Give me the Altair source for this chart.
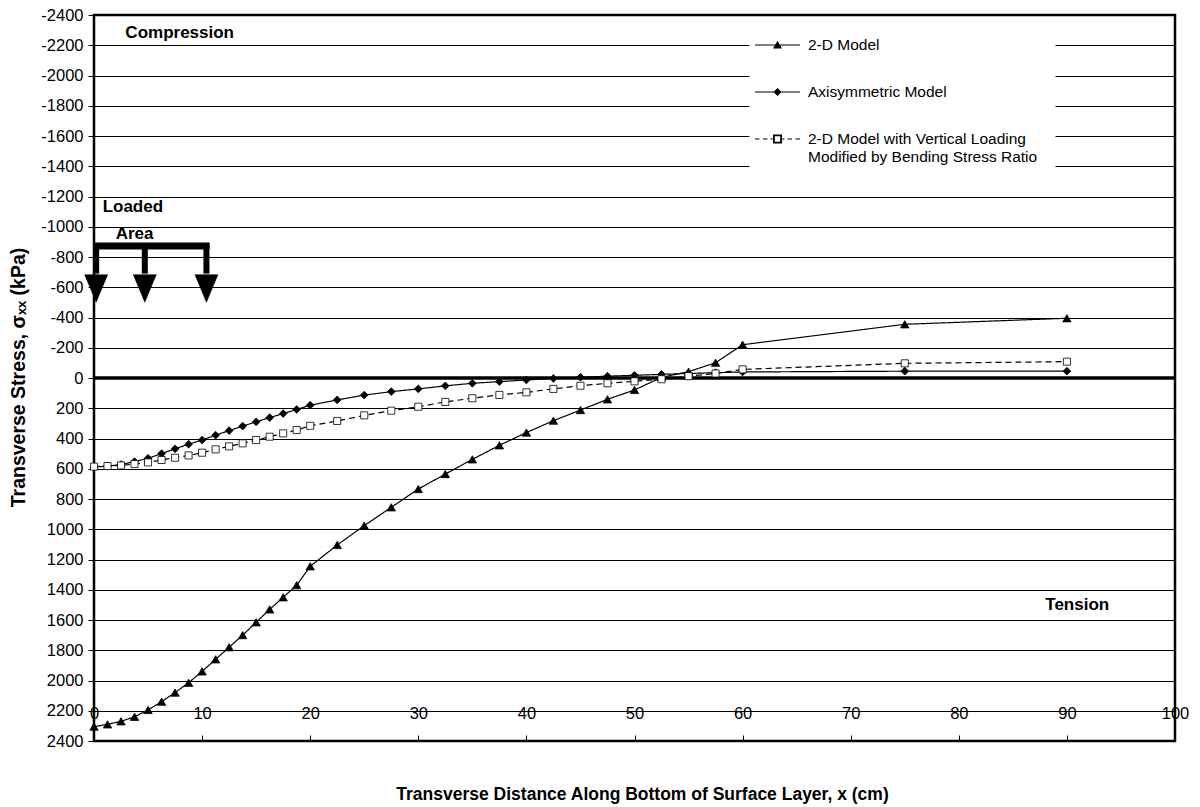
import altair as alt
import pandas as pd

FONT = "Liberation Sans, Arial, Helvetica, sans-serif"

# ---------------- data ----------------
x_vals = [0, 1.25, 2.5, 3.75, 5, 6.25, 7.5, 8.75, 10, 11.25, 12.5, 13.75, 15, 16.25, 17.5, 18.75, 20,
          22.5, 25, 27.5, 30, 32.5, 35, 37.5, 40, 42.5, 45, 47.5, 50, 52.5, 55, 57.5, 60, 75, 90]
model_2d = [2305, 2290, 2270, 2240, 2195, 2140, 2080, 2015, 1940, 1860, 1780, 1700, 1615, 1530, 1450, 1370, 1245,
            1104, 976, 855, 734, 635, 538, 445, 361, 282, 212, 141, 79, -4, -42, -101, -220, -355, -395]
axisym = [588, 583, 572, 553, 531, 500, 468, 438, 410, 378, 348, 318, 290, 262, 235, 208, 180,
          145, 113, 90, 72, 52, 35, 24, 13, 3, -5, -12, -18, -24, -30, -35, -40, -45, -45]
modified = [586, 582, 578, 569, 558, 542, 527, 512, 494, 472, 452, 432, 410, 388, 366, 344, 316,
            284, 247, 216, 190, 158, 134, 112, 95, 72, 51, 35, 22, 8, -12, -30, -57, -97, -108]

series_names = ["2-D Model", "Axisymmetric Model",
                "2-D Model with Vertical Loading Modified by Bending Stress Ratio"]

# annotations
ann_text = ["Compression", "Loaded", "Tension"]
ann_x = [2.9, 0.8, 88]
ann_y = [-2281, -1130, 1500]
area_text = ["Area"]
area_x = [3.75]
area_y = [-952]

# loaded-area symbol (bar + arrows)
bar_x = [0]
bar_x2 = [10.7]
bar_y = [-873]
arrow_x = [0.2, 4.7, 10.4]
arrow_top = [-873, -873, -873]
arrow_bottom = [-690, -690, -690]
arrow_head_y = [-592, -592, -592]

zero_line = [0]

x_ticks = list(range(0, 101, 10))
y_ticks = list(range(-2400, 2401, 200))

# ---------------- tables ----------------
rows = []
for name, vals in zip(series_names, [model_2d, axisym, modified]):
    for xv, yv in zip(x_vals, vals):
        rows.append({"x": xv, "y": yv, "series": name})
df = pd.DataFrame(rows)

df_leg = pd.DataFrame({"series": series_names})
df_ann = pd.DataFrame({"x": ann_x, "y": ann_y, "t": ann_text})
df_area = pd.DataFrame({"x": area_x, "y": area_y, "t": area_text})
df_bar = pd.DataFrame({"x": bar_x, "x2": bar_x2, "y": bar_y})
df_arrow = pd.DataFrame({"x": arrow_x, "y": arrow_top, "y2": arrow_bottom})
df_head = pd.DataFrame({"x": arrow_x, "y": arrow_head_y})
df_zero = pd.DataFrame({"y": zero_line})

W, H = 1081, 726
xscale = alt.Scale(domain=[0, 100], nice=False, zero=False)
yscale = alt.Scale(domain=[-2400, 2400], reverse=True, nice=False, zero=False)

x_axis = alt.Axis(orient="top", offset=-H, values=x_ticks, tickSize=6, tickColor="black", tickWidth=1,
                  labelPadding=14, grid=False, domain=False, title=None, labelFont=FONT,
                  labelFontSize=16.5, labelColor="black", labelFlush=False, labelOverlap=False)
y_axis = alt.Axis(orient="left", values=y_ticks, labelExpr="'' + datum.value", grid=True,
                  gridColor="black", gridWidth=1,
                  gridOpacity=1, tickSize=6, tickColor="black", tickWidth=1, labelPadding=5, domain=False,
                  labelFont=FONT, labelFontSize=16.5, labelColor="black", labelFlush=False,
                  labelOverlap=False,
                  title="Transverse Stress, σₓₓ  (kPa)", titleFont=FONT, titleFontSize=19.5,
                  titleFontWeight="bold", titleColor="black", titleX=-76, titleY=362,
                  titleAngle=270, titleAlign="center", titleBaseline="middle")

X = alt.X("x:Q", scale=xscale, axis=x_axis)
Y = alt.Y("y:Q", scale=yscale, axis=y_axis)

# legend symbols: line + marker drawn as one filled custom path each
legend_paths = [
    "M-2.25,-0.06H2.25V0.06H-2.25ZM0,-0.42L0.45,0.36L-0.45,0.36Z",
    "M-2.25,-0.06H2.25V0.06H-2.25ZM0,-0.4L0.4,0L0,0.4L-0.4,0Z",
    "M-2.25,-0.06H-1.8V0.06H-2.25ZM-1.45,-0.06H-1.0V0.06H-1.45ZM-0.7,-0.06H-0.45V0.06H-0.7Z"
    "M0.45,-0.06H0.7V0.06H0.45ZM1.0,-0.06H1.45V0.06H1.0ZM1.8,-0.06H2.25V0.06H1.8Z"
    "M-0.45,-0.45H0.45V0.45H-0.45ZM-0.27,-0.27V0.27H0.27V-0.27Z",
]
label_expr = ("indexof(datum.label, 'Vertical') >= 0 ? "
              "['2-D Model with Vertical Loading', 'Modified by Bending Stress Ratio'] : datum.label")

legend = alt.Legend(title=None, orient="none", legendX=655.5, legendY=2, fillColor="white",
                    padding=18, symbolSize=400, symbolStrokeWidth=0, symbolStrokeColor="black",
                    symbolFillColor="black", symbolOpacity=1,
                    labelFont=FONT, labelFontSize=15.5, labelColor="black", labelOffset=20.5,
                    labelLimit=500, rowPadding=28, labelExpr=label_expr)

lines = alt.Chart(df).mark_line(color="black", strokeWidth=1.2).encode(
    x=X, y=Y,
    strokeDash=alt.StrokeDash("series:N",
                              scale=alt.Scale(domain=series_names, range=[[1, 0], [1, 0], [6, 4]]),
                              legend=None),
)
points = alt.Chart(df).mark_point(filled=True, stroke="black", opacity=1).encode(
    x=X, y=Y,
    shape=alt.Shape("series:N", scale=alt.Scale(domain=series_names,
                                                range=["triangle-up", "diamond", "square"]), legend=None),
    fill=alt.Fill("series:N", scale=alt.Scale(domain=series_names,
                                              range=["black", "black", "white"]), legend=None),
    size=alt.Size("series:N", scale=alt.Scale(domain=series_names, range=[70, 50, 72]), legend=None),
    strokeWidth=alt.StrokeWidth("series:N", scale=alt.Scale(domain=series_names, range=[0.8, 0.8, 2]),
                                legend=None),
)
legend_layer = alt.Chart(df_leg).mark_point(filled=True, color="black", opacity=0).encode(
    shape=alt.Shape("series:N", scale=alt.Scale(domain=series_names, range=legend_paths), legend=legend),
)
zero = alt.Chart(df_zero).mark_rule(color="black", strokeWidth=3.5).encode(y=Y)
ann = alt.Chart(df_ann).mark_text(align="left", baseline="middle", font=FONT, fontSize=17,
                                  fontWeight="bold", color="black").encode(x=X, y=Y, text="t:N")
area = alt.Chart(df_area).mark_text(align="center", baseline="middle", font=FONT, fontSize=17,
                                    fontWeight="bold", color="black").encode(x=X, y=Y, text="t:N")
bar = alt.Chart(df_bar).mark_rule(color="black", strokeWidth=7).encode(x=X, x2="x2:Q", y=Y)
shafts = alt.Chart(df_arrow).mark_rule(color="black", strokeWidth=6).encode(x=X, y=Y, y2="y2:Q")
heads = alt.Chart(df_head).mark_point(shape="M-1,-1.2L1,-1.2L0,1.2Z", filled=True, fill="black",
                                      stroke="black", strokeWidth=0.5, opacity=1, size=529).encode(
    x=X, y=Y)

chart = alt.layer(lines, zero, points, ann, area, bar, shafts, heads, legend_layer).resolve_scale(
    shape="independent"
).resolve_legend(
    shape="independent"
).properties(
    width=W, height=H,
    autosize=alt.AutoSizeParams(type="none"),
    padding={"left": 94, "top": 15, "right": 25, "bottom": 66},
    title=alt.TitleParams(text="Transverse Distance Along Bottom of Surface Layer, x   (cm)",
                          orient="bottom", anchor="middle", frame="group", offset=36, dx=8,
                          font=FONT, fontSize=17.5, fontWeight="bold", color="black"),
).configure_view(stroke="black", strokeWidth=2.5)

try:
    chart = chart.configure_style(**{"guide-label": alt.MarkConfig(lineHeight=21)})
    chart.to_dict()
except Exception:
    pass

chart.save("out.html", embed_options={"renderer": "svg", "actions": False})
